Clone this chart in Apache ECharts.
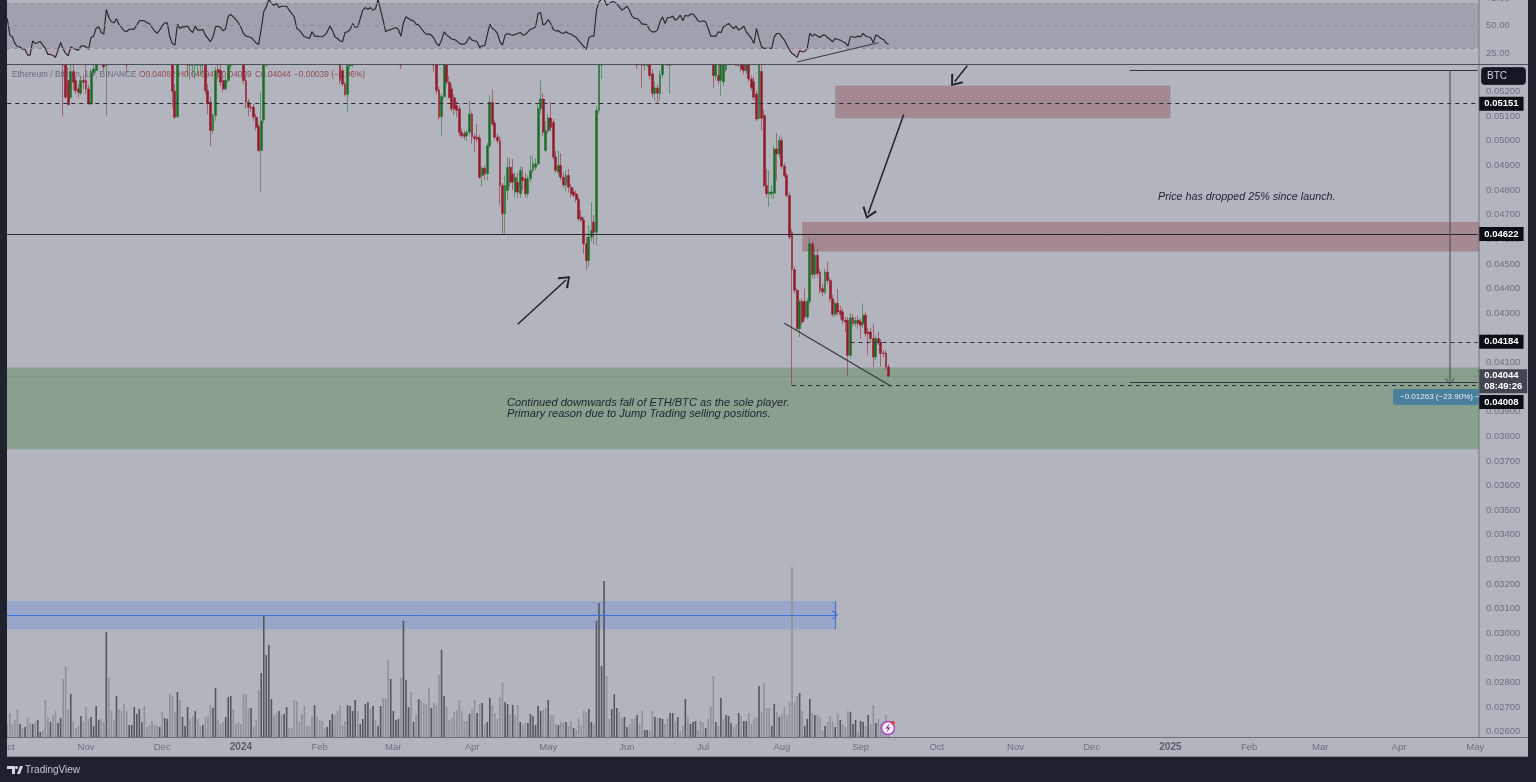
<!DOCTYPE html>
<html><head><meta charset="utf-8"><title>ETH/BTC</title>
<style>html,body{margin:0;padding:0;background:#1e222d;overflow:hidden}#c{width:1536px;height:782px}</style>
<script src="https://cdn.jsdelivr.net/npm/echarts@6/dist/echarts.min.js"></script></head><body><div id="c"></div>
<script>
// Daily ETH/BTC candles from 2023-10-01, [open, close, low, high] in units of 0.00001 BTC
const candles = [
[6120,6080,6060,6140],[6080,6050,6030,6100],[6050,6000,5980,6070],[6000,5980,5960,6020],[5980,5950,5930,6000],[5950,5900,5880,5970],[5900,5880,5870,5920],[5880,5850,5830,5900],[5850,5810,5790,5870],[5810,5790,5770,5830],
[5790,5770,5760,5810],[5770,5740,5720,5790],[5740,5720,5710,5760],[5720,5710,5700,5740],[5710,5700,5690,5720],[5700,5660,5640,5710],[5660,5650,5630,5680],[5650,5620,5600,5660],[5620,5590,5570,5640],[5590,5560,5530,5600],
[5560,5570,5540,5590],[5570,5540,5500,5580],[5380,5330,5099,5500],[5310,5177,5170,5340],[5245,5147,5143,5300],[5177,5282,5170,5310],[5282,5238,5204,5310],[5245,5204,5190,5260],[5211,5197,5177,5230],[5193,5245,5185,5265],
[5245,5238,5210,5270],[5245,5211,5190,5310],[5211,5150,5148,5225],[5150,5278,5145,5290],[5278,5292,5265,5310],[5285,5320,5275,5340],[5320,5380,5310,5400],[5380,5420,5360,5440],[5420,5300,5285,5430],[5320,5500,5103,5560],
[5500,5580,5470,5610],[5580,5560,5530,5600],[5560,5550,5520,5580],[5550,5530,5500,5570],[5530,5480,5460,5560],[5480,5500,5460,5520],[5500,5470,5440,5510],[5470,5430,5278,5480],[5430,5440,5410,5460],[5440,5470,5420,5480],
[5470,5520,5450,5540],[5520,5530,5490,5550],[5530,5570,5510,5590],[5570,5580,5550,5600],[5580,5550,5530,5600],[5550,5540,5520,5570],[5540,5530,5510,5560],[5530,5510,5490,5550],[5510,5500,5480,5530],[5500,5490,5470,5520],
[5490,5500,5470,5520],[5500,5470,5440,5510],[5470,5480,5450,5500],[5480,5500,5460,5520],[5500,5420,5400,5520],[5330,5201,5136,5440],[5201,5096,5090,5230],[5098,5360,5094,5380],[5360,5400,5340,5420],[5400,5430,5380,5450],
[5430,5440,5410,5460],[5440,5400,5265,5450],[5400,5340,5245,5420],[5340,5350,5265,5370],[5320,5370,5251,5390],[5370,5330,5272,5390],[5330,5310,5265,5350],[5310,5340,5272,5360],[5340,5204,5190,5360],[5204,5150,5109,5231],
[5157,5042,4978,5180],[5042,5103,5028,5110],[5103,5285,5082,5300],[5290,5278,5250,5310],[5285,5238,5220,5320],[5245,5211,5197,5260],[5211,5245,5205,5260],[5245,5305,5235,5340],[5305,5370,5290,5390],[5370,5400,5350,5420],
[5400,5410,5380,5430],[5410,5400,5380,5430],[5400,5380,5350,5420],[5350,5245,5230,5370],[5245,5157,5130,5260],[5157,5136,5100,5170],[5136,5133,5120,5150],[5136,5096,5080,5150],[5096,5055,5042,5110],[5058,4961,4955,5070],
[4961,5082,4792,5197],[5085,5310,5075,5350],[5310,5420,5300,5460],[5420,5530,5400,5570],[5530,5720,5500,5780],[5720,5950,5700,6000],[5950,6050,5900,6120],[6050,6020,5980,6100],[6020,5990,5950,6050],[5990,5960,5930,6020],
[5960,5900,5870,5990],[5900,5880,5850,5930],[5880,5850,5820,5910],[5850,5800,5760,5870],[5800,5770,5740,5820],[5770,5740,5710,5800],[5740,5700,5660,5760],[5700,5670,5640,5720],[5670,5650,5630,5690],[5650,5680,5630,5700],
[5680,5660,5640,5700],[5660,5640,5610,5680],[5640,5620,5600,5660],[5620,5590,5570,5640],[5590,5620,5570,5640],[5620,5600,5580,5640],[5600,5560,5540,5620],[5560,5540,5520,5580],[5540,5500,5470,5560],[5500,5470,5440,5520],
[5470,5400,5370,5490],[5340,5245,5230,5400],[5285,5231,5220,5300],[5231,5188,5180,5240],[5188,5305,5116,5320],[5305,5330,5290,5350],[5330,5340,5300,5360],[5340,5420,5320,5450],[5420,5400,5380,5440],[5400,5420,5380,5440],
[5420,5450,5400,5470],[5450,5530,5430,5560],[5530,5600,5510,5640],[5600,5620,5570,5650],[5620,5640,5600,5670],[5640,5600,5580,5660],[5600,5640,5580,5660],[5640,5620,5600,5670],[5620,5650,5600,5670],[5650,5700,5630,5730],
[5700,5680,5640,5720],[5680,5620,5590,5710],[5620,5600,5570,5640],[5600,5550,5530,5620],[5550,5480,5450,5570],[5480,5400,5292,5490],[5400,5560,5390,5590],[5560,5600,5530,5630],[5600,5620,5580,5650],[5620,5590,5560,5640],
[5590,5570,5550,5610],[5570,5540,5510,5590],[5540,5500,5480,5560],[5500,5480,5450,5520],[5480,5460,5430,5500],[5460,5430,5400,5480],[5430,5400,5370,5450],[5400,5380,5350,5420],[5380,5320,5278,5400],[5320,5204,5190,5340],
[5207,5096,5085,5220],[5098,5180,5021,5190],[5180,5320,5170,5340],[5320,5238,5225,5340],[5238,5177,5170,5265],[5211,5130,5120,5230],[5175,5130,5105,5190],[5143,5123,5095,5160],[5130,5035,5020,5145],[5035,5021,5010,5050],
[5028,5018,5005,5040],[5021,5035,4999,5045],[5035,5109,5025,5163],[5109,5017,4988,5120],[5017,5008,4954,5030],[5015,5008,4995,5069],[5012,4852,4845,5025],[4859,4889,4815,4895],[4889,4866,4840,4900],[4866,4980,4840,4990],
[4980,5157,4970,5184],[5157,5069,5060,5207],[5072,5015,5005,5085],[5015,5001,4990,5030],[5001,4819,4741,5020],[4819,4704,4623,4830],[4704,4819,4623,4860],[4798,4893,4758,4934],[4893,4832,4815,4930],[4866,4832,4800,4927],
[4792,4852,4770,4870],[4832,4792,4770,4870],[4785,4880,4768,4895],[4852,4839,4800,4895],[4846,4785,4770,4870],[4785,4846,4771,4860],[4846,4880,4830,4940],[4880,4907,4870,4940],[4893,4907,4880,4930],[4907,5130,4900,5150],
[5130,5170,5110,5247],[5170,5035,5020,5195],[4961,5042,4955,5080],[5042,5093,5030,5110],[5093,5055,5040,5157],[5075,4934,4925,5090],[4934,4880,4870,4960],[4873,4900,4860,4960],[4900,4852,4840,4950],[4852,4821,4810,4870],
[4821,4859,4795,4880],[4859,4812,4790,4886],[4812,4785,4770,4825],[4792,4778,4770,4805],[4785,4762,4750,4798],[4762,4683,4675,4775],[4690,4679,4670,4720],[4679,4582,4541,4690],[4582,4514,4474,4610],[4514,4609,4487,4657],
[4609,4636,4590,4751],[4670,4629,4582,4700],[4629,5123,4575,5140],[5123,5400,5110,5420],[5400,5440,5251,5480],[5440,5520,5400,5560],[5520,5450,5420,5540],[5450,5500,5430,5520],[5500,5530,5480,5550],[5530,5600,5510,5630],
[5600,5620,5570,5650],[5620,5580,5560,5640],[5580,5540,5520,5600],[5540,5570,5520,5590],[5570,5590,5550,5610],[5590,5540,5500,5600],[5540,5480,5450,5560],[5480,5440,5420,5500],[5440,5400,5292,5450],[5400,5420,5380,5440],
[5420,5315,5215,5440],[5315,5340,5285,5360],[5340,5330,5299,5360],[5330,5265,5250,5350],[5272,5193,5177,5290],[5193,5215,5163,5240],[5215,5193,5153,5230],[5193,5269,5163,5285],[5269,5320,5255,5340],[5320,5350,5310,5370],
[5350,5310,5305,5370],[5315,5350,5190,5370],[5350,5370,5330,5400],[5370,5390,5350,5410],[5390,5420,5370,5440],[5420,5430,5400,5450],[5430,5410,5390,5450],[5410,5500,5390,5530],[5500,5480,5450,5520],[5480,5510,5460,5530],
[5510,5530,5490,5550],[5530,5560,5510,5580],[5560,5540,5520,5580],[5540,5520,5490,5560],[5520,5500,5470,5540],[5500,5510,5480,5530],[5510,5480,5450,5530],[5480,5400,5370,5500],[5400,5265,5215,5420],[5265,5320,5245,5340],
[5265,5245,5230,5330],[5245,5330,5184,5350],[5240,5320,5220,5340],[5290,5340,5280,5360],[5340,5370,5320,5390],[5370,5400,5350,5420],[5400,5390,5370,5420],[5390,5350,5303,5400],[5350,5340,5300,5370],[5340,5292,5280,5360],
[5320,5285,5270,5340],[5285,5315,5270,5340],[5315,5251,5240,5330],[5251,5217,5205,5265],[5240,5177,5165,5260],[5190,5089,5080,5205],[5092,5320,5085,5340],[5282,5092,5042,5310],[5103,4819,4810,5125],[4819,4785,4770,4886],
[4785,4792,4731,4880],[4785,4792,4765,4820],[4787,4967,4765,4981],[4967,4947,4839,5032],[4947,5001,4930,5021],[5001,4897,4885,5015],[4897,4859,4850,4910],[4859,4778,4770,4870],[4778,4609,4600,4790],[4627,4477,4005,4640],
[4477,4393,4380,4490],[4393,4237,4231,4400],[4237,4348,4203,4355],[4348,4264,4250,4360],[4348,4285,4270,4400],[4285,4348,4275,4360],[4348,4582,4335,4609],[4582,4458,4440,4590],[4458,4535,4440,4569],[4535,4460,4445,4560],
[4467,4393,4380,4480],[4400,4386,4370,4420],[4386,4467,4375,4480],[4467,4433,4420,4508],[4433,4359,4345,4445],[4359,4296,4285,4375],[4296,4339,4285,4350],[4339,4305,4290,4400],[4310,4295,4275,4330],[4305,4271,4255,4320],
[4271,4264,4224,4285],[4271,4129,4041,4285],[4129,4282,4115,4300],[4282,4258,4245,4295],[4258,4270,4245,4285],[4271,4258,4237,4290],[4265,4251,4197,4280],[4255,4292,4240,4339],[4292,4217,4205,4305],[4224,4217,4129,4240],
[4224,4197,4185,4240],[4197,4122,4082,4258],[4122,4197,4110,4210],[4197,4183,4170,4224],[4183,4136,4082,4195],[4138,4136,4120,4150],[4138,4082,4070,4150],[4082,4044,4039,4094]
];
// Volume (arbitrary units), one per candle
const volume = [13,24,13,17,27,13,9,10,19,14,13,15,17,5,7,37,20,15,22,26,14,19,58,71,27,43,16,9,11,21,15,30,18,20,11,31,17,18,15,105,
59,26,17,41,28,26,33,26,12,12,30,23,28,15,31,10,12,16,12,12,10,25,19,18,43,41,25,45,37,20,11,30,18,21,26,18,11,12,20,21,
32,29,49,17,13,15,20,40,41,28,13,15,13,43,43,29,29,11,17,47,64,122,82,92,38,22,24,26,22,23,30,9,9,37,36,16,23,31,11,11,
21,32,20,17,16,9,10,17,23,22,26,31,12,16,32,31,26,37,26,13,18,33,35,28,31,17,11,31,39,39,77,58,26,17,18,59,116,57,30,45,
15,22,38,36,34,33,49,29,34,32,62,87,41,30,17,19,25,27,37,26,16,16,23,28,37,24,33,34,13,15,39,32,24,18,40,54,35,33,23,32,
22,32,15,12,14,14,23,21,12,31,26,27,29,37,22,22,13,12,15,14,15,11,16,9,7,19,12,26,25,28,15,13,116,134,71,156,61,18,28,43,
29,25,19,20,10,13,18,19,22,13,26,7,7,7,26,20,19,19,18,13,19,24,24,15,20,6,11,38,20,13,15,16,7,16,14,9,18,31,61,15,
11,39,18,22,21,14,10,13,24,21,16,16,24,13,18,20,51,25,54,29,29,11,33,25,20,23,30,22,35,170,35,41,44,26,11,18,38,24,22,22,
20,6,11,15,21,16,10,23,17,13,10,26,25,13,17,5,16,15,11,22,13,32,14,18,13,15,22,6];
const volumeDarkDays = [5,7,10,12,13,17,20,21,25,29,33,34,35,36,39,43,48,49,50,51,52,53,60,62,63,67,69,70,71,74,77,81,82,86,87,88,96,100,101,102,103,104,107,109,110,121,126,127,128,134,135,136,137,139,140,141,142,144,146,147,151,152,153,154,156,157,158,160,162,167,171,172,182,185,187,189,190,196,197,199,202,205,206,207,208,209,210,213,217,220,223,229,230,232,233,234,235,238,239,240,243,244,248,251,252,255,257,258,261,262,264,267,269,270,271,275,279,281,283,284,285,288,290,291,296,301,302,304,312,314,315,316,318,322,326,328,332,333,334,336,337,339,342];
// RSI, one per candle
const rsi = [56.5,41.5,40,34,31,31,28.9,28.6,23.5,23.5,36.4,34,34.9,35.8,32.5,29.5,24.1,24.1,23.2,21.4,
28,34.9,28.9,25,22.9,30.7,29.5,28.6,28,31.6,31.9,31,28.6,39.4,40.6,47.8,49,43.9,42.4,64.6,
57.4,53.5,52.6,56.2,51.1,48.4,45.4,44.8,46.6,46.9,46.9,50.5,54.4,54.7,54.4,52.6,52,48.4,45.4,43,
46,49.9,52.6,52.6,40,34,32.5,51.4,47.5,49,49,49.6,46,43.9,49.6,46,46,46.6,41.5,38.5,
35.5,40,49,49.6,48.4,45.4,47.5,58.6,60.1,58,55.6,52.6,48.4,43,40.6,40,39.4,37,34.6,33.1,
47.5,62.5,67,74,70,68.5,70,66.4,67.6,67.6,67.6,64,61,58,47.5,46,43,40,39.4,38.5,
44.5,40.6,40.6,40,40,41.5,44.5,49.6,46,40,38.5,36.4,35.5,43.9,44.5,46.6,52,48.4,49,56.5,
64,66.4,64.6,66.4,64,65.5,74,64,55,44.5,46,46.5,47.5,48.4,46.6,40.6,52.6,58,56.5,55,
54.4,51.4,50.5,47.5,44.5,42.4,42.4,41.5,38.5,34,31.9,37,44.5,41.5,40,37.9,37.6,36.4,34,33.4,
33.4,35.5,40,37,36.4,35.5,30.4,31.9,31.9,41.5,51.4,47.5,46,43,35.5,
32.5,41.5,43,42.1,41.5,42.1,43,43.9,41.5,42.1,44.5,46.9,47.5,49,61,61.9,50.5,52,55.6,52,
46.6,45.4,45.4,43.6,43,44.5,43,42.4,40.9,39.4,36.4,34,31,28.6,39.1,40.6,40.6,64,71.5,74,
74,68.5,70,71.5,71.5,70,67,64,65.5,67.6,64,58.6,56.5,56.5,54.4,51.4,51.4,50.5,46,44.5,
44.5,46,53.5,58,52,57.4,57.4,58.6,55,56.5,59.5,54.4,59.5,58.6,60.4,60.4,58,54.4,53.5,54.4,
53.5,47.5,40.6,40.6,40.6,44.5,43.6,49,50.5,52,49.6,47.5,49.6,46,47.5,49.6,44.5,41.5,38.5,34,
47.5,38.5,31,29.5,29.5,29.5,29.5,40,43,43,40,37,32.5,28,25,23.5,21.4,27.4,26.5,26.5,
29.5,43,40.6,42.4,40.6,39.4,41.5,41.5,39.4,37.6,35.5,38.5,37.6,37,35.5,34.6,31.6,40,40,39.4,
40.6,40,43,40.6,40,39.4,34.6,41.5,40.6,38.5,37.6,34.6,33.1];
const monthNames = ['Jan','Feb','Mar','Apr','May','Jun','Jul','Aug','Sep','Oct','Nov','Dec'];
const priceTicks = [0.026,0.027,0.028,0.029,0.03,0.031,0.032,0.033,0.034,0.035,0.036,0.037,0.038,0.039,0.04,0.041,0.042,0.043,0.044,0.045,0.046,0.047,0.048,0.049,0.05,0.051,0.052];
const rsiTicks = [25,50,75];
const rsiLevels = [30,50,70];
const headerTexts = ['Ethereum / Bitcoin, 1D, BINANCE','O0.04082','H0.04094','L0.04039','C0.04044','\u22120.00039 (\u22120.96%)'];
const noteLines = ['Continued downwards fall of ETH/BTC as the sole player.','Primary reason due to Jump Trading selling positions.'];
const noteDrop = 'Price has dropped 25% since launch.';
const measureLabel = '\u22120.01263 (\u221223.90%) \u2212';

// daily axis: 2023-10-01 through 2025-05-02
const days = [];
for (let i = 0; i < 580; i++) days.push(new Date(Date.UTC(2023, 9, 1 + i)).toISOString().slice(0, 10));
const LAST = days.length - 1;

const INK = '#1e222d', TICK = '#6d707b', FONT = '"Liberation Sans","Open Sans",sans-serif';
const PRICE_MIN = 0.02579, PRICE_MAX = 0.05308;
const chevron = 'path://M10,0 L20,13 L18,15 L10,4 L2,15 L0,13 Z';
const dark = new Set(volumeDarkDays);

// The price pane cuts candles off at its top edge, as the original does.
const shownCandles = candles.map(r => {
  const p = r.map(v => v / 100000);
  return p[2] >= PRICE_MAX ? '-' : p.map(v => Math.min(v, PRICE_MAX));
});

function seg(a, b, color, width, type, extra) {
  return [Object.assign({coord: a, symbol: 'none', lineStyle: {color, width, type: type || 'solid'}}, extra && extra.from),
          Object.assign({coord: b, symbol: 'none'}, extra && extra.to)];
}
function arrow(a, b, color, width, size) {
  return seg(a, b, color, width, 'solid', {to: {symbol: chevron, symbolSize: size || [15, 11], itemStyle: {color}}});
}
function tag(text, bg, extra) {
  return {label: Object.assign({show: true, position: 'end', distance: 1.5, formatter: text, color: '#fff', backgroundColor: bg || '#0b0e14', padding: [2, 5, 2, 5], fontSize: 9.5, fontWeight: 'bold', fontFamily: FONT, lineHeight: 10}, extra || {})};
}

const marks = [
  seg([0, 0.05151], [LAST, 0.05151], '#2a2d35', 1, [4, 4], {from: tag('0.05151')}),
  seg([0, 0.04622], [LAST, 0.04622], '#26282e', 1, 'solid', {from: tag('0.04622')}),
  seg([0, 0.04044], [LAST, 0.04044], '#6f8875', 1, [1, 2], {from: tag('0.04044\n08:49:26', '#434651', {offset: [0, 5], lineHeight: 11, padding: [1, 5, 1, 5]})}),
  seg([332, 0.04184], [LAST, 0.04184], '#2a2d35', 1, [4, 4], {from: tag('0.04184')}),
  seg([309, 0.04008], [LAST, 0.04008], '#2a2d35', 1, [4, 4], {from: tag('0.04008', null, {offset: [0, 17]})}),
  seg([306, 0.04259], [348, 0.04003], '#33363f', 1.2),
  arrow([201, 0.04255], [220, 0.04435], INK, 1.5),
  arrow([353, 0.05107], [339, 0.04705], INK, 1.5),
  arrow([378, 0.05305], [373, 0.0524], INK, 1.5),
  seg([442, 0.05285], [LAST, 0.05285], '#33363f', 1),
  seg([442, 0.04019], [LAST, 0.04019], '#33363f', 1),
  arrow([568, 0.05285], [568, 0.04023], 'rgba(70,72,84,0.65)', 1.6, [10, 7]),
  arrow([0, 0.03074], [326, 0.03074], '#3f6fe0', 1, [9, 6]),
  seg([326, 0.03131], [326, 0.03017], '#3f6fe0', 1.2)
];
const zones = [
  [{xAxis: 326, yAxis: 0.05224, itemStyle: {color: 'rgba(122,9,18,0.25)'}}, {xAxis: 458, yAxis: 0.05092}],
  [{xAxis: 313, yAxis: 0.0467, itemStyle: {color: 'rgba(122,9,18,0.25)'}}, {yAxis: 0.04551}],
  [{yAxis: 0.0408, itemStyle: {color: 'rgba(45,111,37,0.3)'}}, {yAxis: 0.03748}],
  [{yAxis: 0.03131, itemStyle: {color: 'rgba(41,98,255,0.18)'}}, {xAxis: 326, yAxis: 0.03017}]
];

const txt = (x, y, text, style) => ({type: 'text', z: 1, silent: true, x, y, style: Object.assign({text, font: '8.3px ' + FONT, fill: TICK, verticalAlign: 'middle'}, style)});
const red = 'rgba(140,40,55,0.78)';
const graphics = [
  {type: 'rect', z: -5, silent: true, shape: {x: 7, y: 0, width: 1521, height: 757}, style: {fill: '#b2b5be'}},
  txt(12, 75, headerTexts[0], {fill: 'rgba(90,93,105,0.85)'}),
  txt(139, 75, headerTexts[1], {fill: red}), txt(178, 75, headerTexts[2], {fill: red}),
  txt(217, 75, headerTexts[3], {fill: red}), txt(255, 75, headerTexts[4], {fill: red}), txt(294, 75, headerTexts[5], {fill: red}),
  {type: 'rect', z: 50, silent: true, shape: {x: 0, y: 0, width: 7, height: 782}, style: {fill: INK}},
  {type: 'rect', z: 50, silent: true, shape: {x: 7, y: 757, width: 1529, height: 25}, style: {fill: INK}},
  {type: 'rect', z: 50, silent: true, shape: {x: 1528, y: 0, width: 8, height: 782}, style: {fill: INK}},
  {type: 'line', z: 40, silent: true, shape: {x1: 7, y1: 64.5, x2: 1528, y2: 64.5}, style: {stroke: '#4d505a', lineWidth: 1}},
  {type: 'line', z: 40, silent: true, shape: {x1: 1479, y1: 737.5, x2: 1528, y2: 737.5}, style: {stroke: '#6b6e78', lineWidth: 1}},
  {type: 'line', z: 40, silent: true, shape: {x1: 7, y1: 757, x2: 1528, y2: 757}, style: {stroke: '#5a5d67', lineWidth: 1}},
  {type: 'text', z: 40, silent: true, x: 1158, y: 197, style: {text: noteDrop, font: 'italic 10.75px ' + FONT, fill: INK, verticalAlign: 'middle'}},
  {type: 'text', z: 40, silent: true, x: 507, y: 403, style: {text: noteLines[0], font: 'italic 11.1px ' + FONT, fill: INK, verticalAlign: 'middle'}},
  {type: 'text', z: 40, silent: true, x: 507, y: 414, style: {text: noteLines[1], font: 'italic 11.1px ' + FONT, fill: INK, verticalAlign: 'middle'}},
  {type: 'rect', z: 40, silent: true, shape: {x: 1481.5, y: 67.5, width: 44, height: 17, r: 3}, style: {fill: '#131722', stroke: '#2a2e39', lineWidth: 1}},
  {type: 'text', z: 41, silent: true, x: 1487, y: 76, style: {text: 'BTC', font: '10px ' + FONT, fill: '#d1d4dc', verticalAlign: 'middle'}},
  {type: 'rect', z: 40, silent: true, shape: {x: 1393, y: 389, width: 86, height: 16, r: 2}, style: {fill: '#4b7f9e'}},
  {type: 'text', z: 41, silent: true, x: 1400, y: 397, style: {text: measureLabel, font: '8px ' + FONT, fill: '#e4eef3', verticalAlign: 'middle'}},
  {type: 'circle', z: 40, silent: true, shape: {cx: 888, cy: 728, r: 6.5}, style: {fill: '#f4eef6', stroke: '#ab47bc', lineWidth: 1.5}},
  {type: 'polygon', z: 41, silent: true, shape: {points: [[889.5, 723.5], [885.5, 728.5], [888, 728.5], [886.5, 732.5], [890.5, 727.5], [888, 727.5]]}, style: {fill: '#8e24aa'}},
  {type: 'circle', z: 41, silent: true, shape: {cx: 892.8, cy: 722.8, r: 2}, style: {fill: '#f23645'}},
  {type: 'polygon', z: 51, silent: true, shape: {points: [[7, 766], [15, 766], [15, 774], [12, 774], [12, 769], [7, 769]]}, style: {fill: '#d1d4dc'}},
  {type: 'circle', z: 51, silent: true, shape: {cx: 16.5, cy: 767.5, r: 1.5}, style: {fill: '#d1d4dc'}},
  {type: 'polygon', z: 51, silent: true, shape: {points: [[17, 774], [20, 766], [23, 766], [20, 774]]}, style: {fill: '#d1d4dc'}},
  {type: 'text', z: 51, silent: true, x: 25, y: 770, style: {text: 'TradingView', font: '10px ' + FONT, fill: '#c6c9d1', verticalAlign: 'middle'}}
];

const labelBase = {color: TICK, fontSize: 9.5, fontFamily: FONT};
const option = {
  animation: false,
  backgroundColor: INK,
  textStyle: {fontFamily: FONT},
  graphic: {elements: graphics},
  grid: [
    {left: 6, right: 57, top: 65, bottom: 45, outerBoundsMode: 'none'},
    {left: 6, right: 57, top: -2, height: 67, outerBoundsMode: 'none'}
  ],
  xAxis: [
    {type: 'category', gridIndex: 0, data: days, boundaryGap: true,
     axisLine: {lineStyle: {color: '#6b6e78'}}, axisTick: {show: false}, splitLine: {show: false},
     axisLabel: Object.assign({}, labelBase, {margin: 5, hideOverlap: false, showMinLabel: true, showMaxLabel: true,
       interval: (i, v) => v.endsWith('-01'),
       formatter: v => { const m = +v.slice(5, 7) - 1; return m === 0 ? '{y|' + v.slice(0, 4) + '}' : monthNames[m]; },
       rich: {y: {color: '#5a5d67', fontSize: 10, fontWeight: 'bold', fontFamily: FONT}}})},
    {type: 'category', gridIndex: 1, data: days, show: false}
  ],
  yAxis: [
    {type: 'value', gridIndex: 0, position: 'right', min: PRICE_MIN, max: PRICE_MAX, scale: true,
     splitLine: {show: false}, axisTick: {show: false}, axisLine: {show: true, lineStyle: {color: '#888b95', width: 1.5}},
     axisLabel: Object.assign({}, labelBase, {margin: 7, customValues: priceTicks, formatter: v => v.toFixed(5)})},
    {type: 'value', gridIndex: 1, position: 'right', min: 14.55, max: 75,
     splitLine: {show: false}, axisTick: {show: false}, axisLine: {show: true, lineStyle: {color: '#888b95', width: 1.5}},
     axisLabel: Object.assign({}, labelBase, {margin: 7, customValues: rsiTicks, formatter: v => v.toFixed(2)})},
    {type: 'value', gridIndex: 0, min: 0, max: 672, show: false}
  ],
  series: [
    {type: 'bar', name: 'Volume', xAxisIndex: 0, yAxisIndex: 2, barWidth: 1.6, silent: true, z: 1,
     data: volume.map((v, i) => ({value: v, itemStyle: {color: dark.has(i) ? '#54565d' : '#8f919b'}}))},
    {type: 'candlestick', name: 'ETH/BTC', xAxisIndex: 0, yAxisIndex: 0, barWidth: 2.4, z: 3, silent: true,
     itemStyle: {color: '#1c6a25', color0: '#921a2a', borderColor: 'rgba(35,115,45,0.55)', borderColor0: 'rgba(150,30,48,0.55)', borderWidth: 1},
     data: shownCandles,
     markArea: {silent: true, data: zones},
     markLine: {silent: true, symbol: 'none', animation: false, label: {show: false}, data: marks}},
    {type: 'line', name: 'RSI', xAxisIndex: 1, yAxisIndex: 1, data: rsi, symbol: 'none', silent: true, z: 4,
     lineStyle: {color: '#26282e', width: 1.15},
     markArea: {silent: true, itemStyle: {color: 'rgba(110,112,125,0.28)'}, data: [[{yAxis: rsiLevels[2]}, {yAxis: rsiLevels[0]}]]},
     markLine: {silent: true, symbol: 'none', label: {show: false},
       data: rsiLevels.map(v => ({yAxis: v, lineStyle: {color: '#8b8e98', type: [4, 4], width: 1}}))
         .concat([seg([311, 17.2], [343, 34.6], '#3a3d46', 1.1)])}},
    {type: 'line', name: 'RSI oversold', xAxisIndex: 1, yAxisIndex: 1, symbol: 'none', silent: true, z: 3, connectNulls: false,
     lineStyle: {width: 0}, areaStyle: {color: 'rgba(242,54,69,0.16)', origin: 30},
     data: rsi.map(v => v < 30 ? v : null)}
  ]
};
const chart = echarts.init(document.getElementById('c'), null, {renderer: 'canvas', width: 1536, height: 782});
chart.setOption(option);
</script></body></html>
